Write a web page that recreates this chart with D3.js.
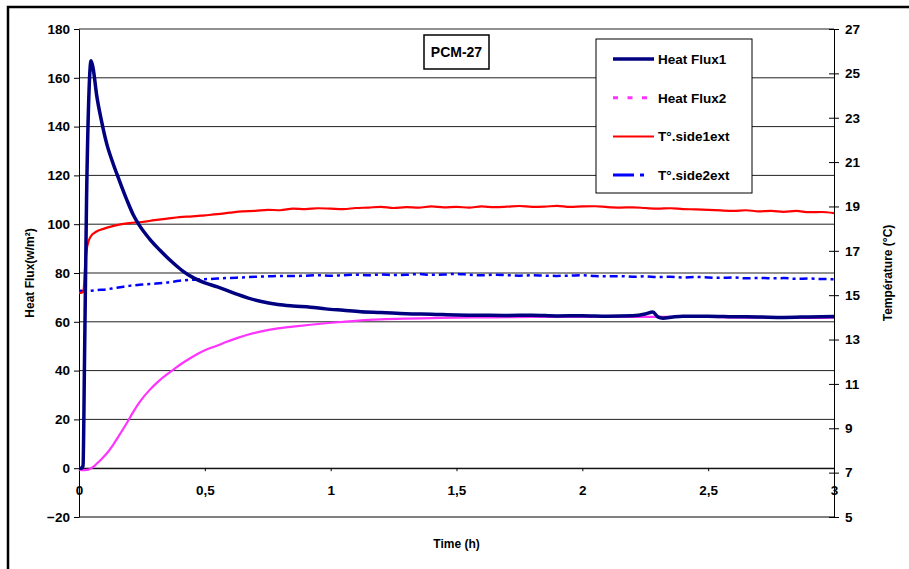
<!DOCTYPE html>
<html>
<head>
    <meta charset="utf-8">
    <title>PCM-27</title>
    <script src="https://d3js.org/d3.v7.min.js"></script>
    <style>
        body { margin: 0; background: white; }
        svg { display: block; }
        text { font-family: "Liberation Sans", Arial, sans-serif; font-weight: bold; }
    </style>
</head>
<body>
<svg id="chart"></svg>
<script>
    const W = 909, H = 569;
    const m = { left: 79, top: 29, right: 834, bottom: 517 };

    // flux series (left axis, W/m²)
    const fluxTime = [0, 0.01, 0.016, 0.022, 0.03, 0.04, 0.048, 0.056, 0.07, 0.09, 0.11, 0.135, 0.16, 0.19, 0.215, 0.24,
        0.28, 0.32, 0.37, 0.41, 0.45, 0.5, 0.55, 0.59, 0.63, 0.67, 0.72, 0.79, 0.85, 0.92, 0.98, 1.05, 1.12, 1.2, 1.3,
        1.4, 1.5, 1.6, 1.7, 1.8, 1.9, 2.0, 2.1, 2.2, 2.25, 2.28, 2.3, 2.32, 2.36, 2.4, 2.5, 2.6, 2.7, 2.8, 2.9, 3.0];
    const heatFlux1 = [0, 0, 1, 45, 110, 155, 167, 164, 153, 142, 133, 125, 118, 110, 104, 99.5,
        94, 89.5, 84.5, 81, 78.3, 76, 74.3, 72.8, 71.2, 69.8, 68.4, 67.1, 66.5, 66, 65.3, 64.7, 64.1, 63.8, 63.3,
        63.1, 62.8, 62.7, 62.6, 62.7, 62.4, 62.5, 62.3, 62.5, 63.2, 64, 62, 61.5, 62, 62.3, 62.3, 62.1, 62, 61.8, 62, 62.2];
    const heatFlux2 = [-0.5, -0.8, -0.8, -0.8, -0.7, -0.5, 0, 0.5, 1.8, 3.8, 6, 9.5, 13.5, 18.5, 23, 27,
        32, 36, 40, 43, 45.6, 48.3, 50.3, 51.9, 53.4, 54.7, 56, 57.3, 58, 58.8, 59.4, 60, 60.6, 61, 61.3,
        61.5, 61.7, 61.8, 61.9, 62, 62, 62, 62, 62, 62, 62, 62, 62, 62, 62, 62, 61.8, 61.7, 61.6, 61.6, 61.7];

    // temperature series (right axis, °C)
    const tempTime = [0, 0.01, 0.018, 0.024, 0.03, 0.04, 0.05, 0.06, 0.075, 0.1, 0.13, 0.17, 0.2, 0.25, 0.3, 0.35,
        0.4, 0.45, 0.5, 0.55, 0.6, 0.65, 0.7, 0.75, 0.8, 0.85, 0.9, 0.95, 1.0, 1.05, 1.1, 1.15, 1.2, 1.25, 1.3, 1.35,
        1.4, 1.45, 1.5, 1.55, 1.6, 1.65, 1.7, 1.75, 1.8, 1.85, 1.9, 1.95, 2.0, 2.05, 2.1, 2.15, 2.2, 2.25, 2.3, 2.35,
        2.4, 2.45, 2.5, 2.55, 2.6, 2.65, 2.7, 2.75, 2.8, 2.85, 2.9, 2.95, 3.0];
    const side1ext = [15.1, 15.1, 15.2, 16.2, 17.0, 17.5, 17.7, 17.8, 17.9, 18.0, 18.1, 18.2, 18.25, 18.3, 18.38, 18.45,
        18.52, 18.55, 18.6, 18.65, 18.72, 18.78, 18.8, 18.85, 18.83, 18.9, 18.88, 18.92, 18.9, 18.88, 18.93, 18.95, 18.98, 18.93, 18.97, 18.95,
        19.0, 18.96, 18.98, 18.95, 19.0, 18.97, 18.99, 19.02, 18.98, 18.99, 19.03, 18.98, 19.0, 19.01, 18.97, 18.95, 18.96, 18.93, 18.9, 18.92,
        18.88, 18.87, 18.85, 18.82, 18.8, 18.83, 18.78, 18.8, 18.76, 18.8, 18.74, 18.75, 18.7];
    const side2ext = [15.2, 15.2, 15.18, 15.15, 15.17, 15.18, 15.2, 15.21, 15.23, 15.25, 15.3, 15.37, 15.42, 15.48, 15.52, 15.57,
        15.65, 15.7, 15.72, 15.75, 15.78, 15.8, 15.83, 15.85, 15.87, 15.86, 15.88, 15.9, 15.88, 15.9, 15.92, 15.9, 15.93, 15.91, 15.92, 15.95,
        15.92, 15.93, 15.96, 15.92, 15.9, 15.92, 15.9, 15.88, 15.9, 15.88, 15.87, 15.88, 15.9, 15.86, 15.85, 15.86, 15.83, 15.85, 15.82, 15.83,
        15.8, 15.82, 15.8, 15.78, 15.8, 15.76, 15.78, 15.76, 15.77, 15.74, 15.75, 15.73, 15.72];

    const xTicks = [0, 0.5, 1, 1.5, 2, 2.5, 3];
    const yLeftTicks = [-20, 0, 20, 40, 60, 80, 100, 120, 140, 160, 180];
    const yRightTicks = [5, 7, 9, 11, 13, 15, 17, 19, 21, 23, 25, 27];

    const svg = d3.select("#chart").attr("width", W).attr("height", H);

    const x = d3.scaleLinear().domain([0, 3]).range([m.left, m.right]);
    const yL = d3.scaleLinear().domain([-20, 180]).range([m.bottom, m.top]);
    const yR = d3.scaleLinear().domain([5, 27]).range([m.bottom, m.top]);

    // outer frame (runs off the right/bottom edge)
    svg.append("rect")
        .attr("x", 8).attr("y", 7)
        .attr("width", 940).attr("height", 600)
        .attr("fill", "none").attr("stroke", "black").attr("stroke-width", 2.5);

    // gridlines
    svg.append("g").selectAll("line").data(yLeftTicks.slice(1)).join("line")
        .attr("x1", m.left).attr("x2", m.right)
        .attr("y1", d => yL(d)).attr("y2", d => yL(d))
        .attr("stroke", "#222").attr("stroke-width", 1);

    // plot box bottom
    svg.append("line")
        .attr("x1", m.left).attr("x2", m.right)
        .attr("y1", m.bottom).attr("y2", m.bottom)
        .attr("stroke", "black");

    const styleTicks = g => g.selectAll("text").attr("font-size", 13.5).attr("fill", "black")
        .style("font-family", "Liberation Sans, Arial").style("font-weight", "bold");

    // left axis
    const leftAxis = svg.append("g")
        .attr("transform", `translate(${m.left},0)`)
        .call(d3.axisLeft(yL).tickValues(yLeftTicks).tickSize(5).tickPadding(4).tickSizeOuter(0));
    styleTicks(leftAxis);

    // right axis, ticks cross the line
    const rightAxis = svg.append("g")
        .attr("transform", `translate(${m.right},0)`)
        .call(d3.axisRight(yR).tickValues(yRightTicks).tickSize(5).tickPadding(6).tickSizeOuter(0));
    rightAxis.selectAll(".tick line").attr("x1", -5);
    styleTicks(rightAxis);

    // x axis sits at flux = 0
    const bottomAxis = svg.append("g")
        .attr("transform", `translate(0,${yL(0)})`)
        .call(d3.axisBottom(x).tickValues(xTicks).tickSize(3).tickPadding(14).tickSizeOuter(0)
            .tickFormat(d => String(d).replace(".", ",")));
    styleTicks(bottomAxis);
    [leftAxis, rightAxis, bottomAxis].forEach(a => a.selectAll("path, line").attr("stroke", "black"));

    // lines
    const fluxLine = v => d3.line().curve(d3.curveMonotoneX).x((d, i) => x(fluxTime[i])).y(d => yL(d))(v);
    const tempLine = v => d3.line().curve(d3.curveMonotoneX).x((d, i) => x(tempTime[i])).y(d => yR(d))(v);

    const plot = svg.append("g");
    plot.append("path").attr("d", fluxLine(heatFlux2))
        .attr("fill", "none").attr("stroke", "#ff33ff").attr("stroke-width", 2.2);
    plot.append("path").attr("d", tempLine(side2ext))
        .attr("fill", "none").attr("stroke", "#0000ff").attr("stroke-width", 2.5)
        .attr("stroke-dasharray", "8,4,3,4");
    plot.append("path").attr("d", tempLine(side1ext))
        .attr("fill", "none").attr("stroke", "#ff0000").attr("stroke-width", 2.2);
    plot.append("path").attr("d", fluxLine(heatFlux1))
        .attr("fill", "none").attr("stroke", "#000080").attr("stroke-width", 3.5)
        .attr("stroke-linejoin", "round");

    // title box
    svg.append("rect").attr("x", 424).attr("y", 35).attr("width", 65).attr("height", 34)
        .attr("fill", "white").attr("stroke", "black").attr("stroke-width", 1.5);
    svg.append("text").attr("x", 456.5).attr("y", 57).attr("text-anchor", "middle")
        .attr("font-size", 14).text("PCM-27");

    // legend
    const legendItems = [
        { name: "Heat Flux1", color: "#000080", width: 3.5, dash: null, len: 41 },
        { name: "Heat Flux2", color: "#ff33ff", width: 3, dash: "5,9.5", len: 34 },
        { name: "T°.side1ext", color: "#ff0000", width: 2, dash: null, len: 41 },
        { name: "T°.side2ext", color: "#0000ff", width: 3, dash: "21,6,4,100", len: 41 }
    ];
    svg.append("rect").attr("x", 596).attr("y", 39).attr("width", 156).attr("height", 154)
        .attr("fill", "white").attr("stroke", "black").attr("stroke-width", 1);
    const leg = svg.append("g").selectAll("g").data(legendItems).join("g")
        .attr("transform", (d, i) => `translate(613,${59 + i * 38.7})`);
    leg.append("line").attr("x1", 0).attr("x2", d => d.len).attr("y1", 0).attr("y2", 0)
        .attr("stroke", d => d.color).attr("stroke-width", d => d.width)
        .attr("stroke-dasharray", d => d.dash);
    leg.append("text").attr("x", 45).attr("y", 5).attr("font-size", 13.5).text(d => d.name);

    // axis titles
    svg.append("text").attr("transform", `translate(34,${(m.top + m.bottom) / 2}) rotate(-90)`)
        .attr("text-anchor", "middle").attr("font-size", 12).text("Heat Flux(w/m²)");
    svg.append("text").attr("transform", `translate(892,${(m.top + m.bottom) / 2}) rotate(-90)`)
        .attr("text-anchor", "middle").attr("font-size", 12).text("Température (°C)");
    svg.append("text").attr("x", (m.left + m.right) / 2).attr("y", 548)
        .attr("text-anchor", "middle").attr("font-size", 12).text("Time (h)");
</script>
</body>
</html>
